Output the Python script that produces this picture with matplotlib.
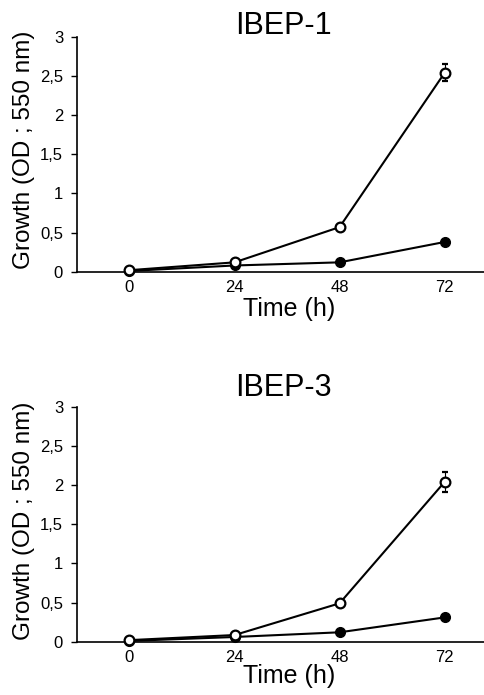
import matplotlib.pyplot as plt

plt.rcParams["font.family"] = ["Liberation Sans", "DejaVu Sans"]

hours = [0, 24, 48, 72]
yticks = [0, 0.5, 1, 1.5, 2, 2.5, 3]
ytick_labels = ["0", "0,5", "1", "1,5", "2", "2,5", "3"]

# IBEP-1
open1 = [0.02, 0.12, 0.57, 2.54]
open1_err = [0, 0, 0, 0.11]
filled1 = [0.01, 0.08, 0.12, 0.38]

# IBEP-3
open3 = [0.02, 0.085, 0.49, 2.04]
open3_err = [0, 0, 0, 0.13]
filled3 = [0.01, 0.06, 0.12, 0.31]

fig = plt.figure(figsize=(4.84, 6.95), dpi=100)

# title centre y, x-label baseline y, y-label centre y (pixels from top)
panels = [
    ("IBEP-1", open1, open1_err, filled1, [0.159, 0.609, 0.841, 0.338], 26, 316, 150),
    ("IBEP-3", open3, open3_err, filled3, [0.159, 0.0767, 0.841, 0.338], 388, 683, 521),
]

for title, op, op_err, fl, pos, ty, xly, yly in panels:
    ax = fig.add_axes(pos)
    ax.plot(hours, fl, color="black", lw=1.5, marker="o", ms=7,
            mfc="black", mec="black", clip_on=False, zorder=3)
    ax.errorbar(hours, op, yerr=op_err, color="black", lw=1.5, marker="o", ms=7,
                mfc="white", mec="black", mew=1.6, capsize=2, elinewidth=0.8,
                clip_on=False, zorder=4)
    ax.set_xlim(-12, 81)
    ax.set_ylim(0, 3)
    ax.set_xticks(hours)
    ax.set_yticks(yticks)
    ax.set_yticklabels(ytick_labels)
    ax.spines["top"].set_visible(False)
    ax.spines["right"].set_visible(False)
    ax.spines["left"].set_linewidth(1.2)
    ax.spines["bottom"].set_linewidth(1.2)
    ax.tick_params(axis="x", length=0, labelsize=12, pad=6)
    ax.tick_params(axis="y", length=4, width=1, labelsize=12, pad=6)
    fig.text(283 / 484, 1 - ty / 695, title, fontsize=22, ha="center", va="center")
    fig.text(289 / 484, 1 - xly / 695, "Time (h)", fontsize=18, ha="center", va="baseline")
    fig.text(24 / 484, 1 - yly / 695, "Growth (OD ; 550 nm)", fontsize=17.5,
             ha="center", va="center", rotation=90)

plt.savefig("out.png", dpi=100)
